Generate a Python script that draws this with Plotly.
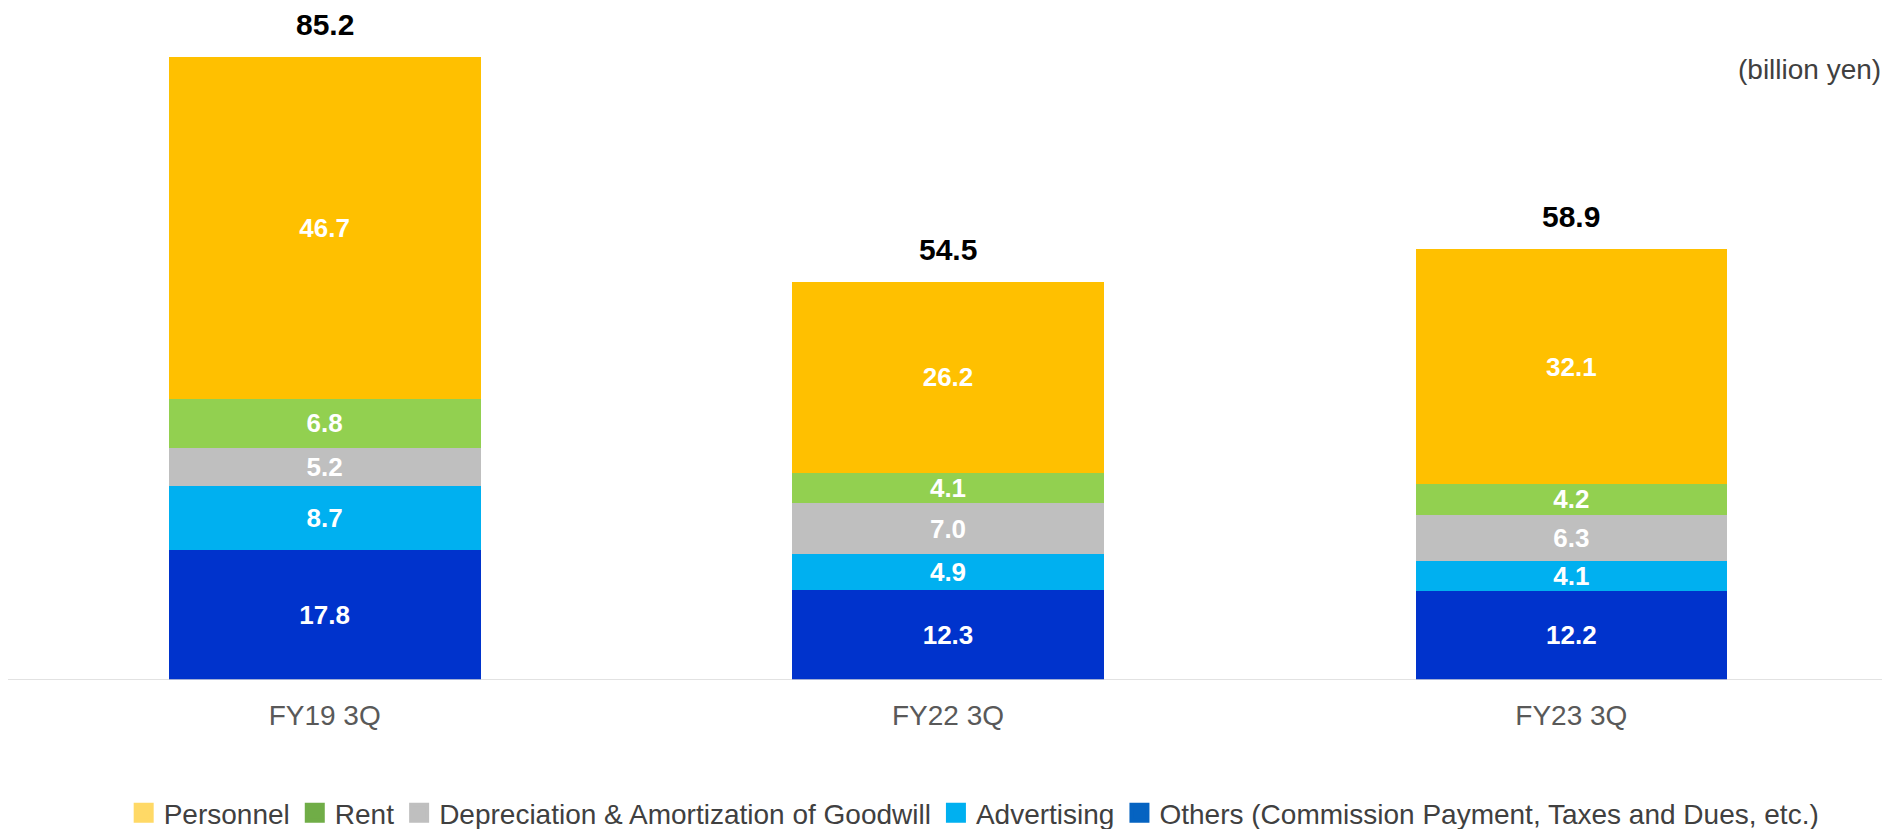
import plotly.graph_objects as go

categories = ["FY19 3Q", "FY22 3Q", "FY23 3Q"]
others = [17.8, 12.3, 12.2]
advertising = [8.7, 4.9, 4.1]
depreciation = [5.2, 7.0, 6.3]
rent = [6.8, 4.1, 4.2]
personnel = [46.7, 26.2, 32.1]
totals = [85.2, 54.5, 58.9]

series = [
    ("Others (Commission Payment, Taxes and Dues, etc.)", others, "#0033CC", "#0563C1"),
    ("Advertising", advertising, "#00B0F0", "#00B0F0"),
    ("Depreciation & Amortization of Goodwill", depreciation, "#BFBFBF", "#BFBFBF"),
    ("Rent", rent, "#92D050", "#70AD47"),
    ("Personnel", personnel, "#FFC000", "#FFD966"),
]

FONT = "Arial, 'Liberation Sans', sans-serif"
fig = go.Figure()

for name, vals, color, _ in series:
    fig.add_trace(go.Bar(
        x=categories, y=vals, name=name, marker=dict(color=color, line=dict(width=0)),
        text=[f"{v:.1f}" for v in vals], textposition="inside", insidetextanchor="middle",
        textfont=dict(family=FONT, size=26, color="white", weight="bold"),
        constraintext="none", showlegend=False, hoverinfo="x+y+name",
    ))

# legend-only entries (legend colours differ slightly from bar colours)
for name, vals, _, lcolor in reversed(series):
    fig.add_trace(go.Scatter(
        x=[None], y=[None], mode="markers", name=name,
        marker=dict(symbol="square", size=16, color=lcolor, line=dict(color=lcolor, width=4)),
        showlegend=True,
    ))

for c, t in zip(categories, totals):
    fig.add_annotation(x=c, y=t, text=f"<b>{t:.1f}</b>", showarrow=False, yanchor="bottom",
                       yshift=14, font=dict(family=FONT, size=30, color="black"))

fig.add_annotation(xref="paper", yref="paper", x=1.0, y=0.94, xanchor="right", yanchor="middle",
                   text="(billion yen)", showarrow=False,
                   font=dict(family=FONT, size=28, color="#404040"))

fig.add_shape(type="line", xref="paper", yref="y", x0=-0.01, x1=1.01, y0=0, y1=0,
              line=dict(color="#D9D9D9", width=1.5))

fig.update_layout(
    width=1882, height=845,
    margin=dict(l=5, r=7, t=22, b=173),
    paper_bgcolor="white", plot_bgcolor="white",
    barmode="stack", bargap=0.5,
    uniformtext=dict(minsize=26, mode="show"),
    font=dict(family=FONT),
    xaxis=dict(showgrid=False, showline=False, zeroline=False, ticks="outside", ticklen=10,
               tickcolor="rgba(0,0,0,0)", tickfont=dict(family=FONT, size=28, color="#595959")),
    yaxis=dict(range=[0, 88.9], visible=False),
    legend=dict(orientation="h", x=0.514, xanchor="center", y=-0.2045, yanchor="middle",
                font=dict(family=FONT, size=28, color="#404040"), traceorder="normal",
                itemclick=False, tracegroupgap=0),
    showlegend=True,
)

fig.write_html("out.html")
